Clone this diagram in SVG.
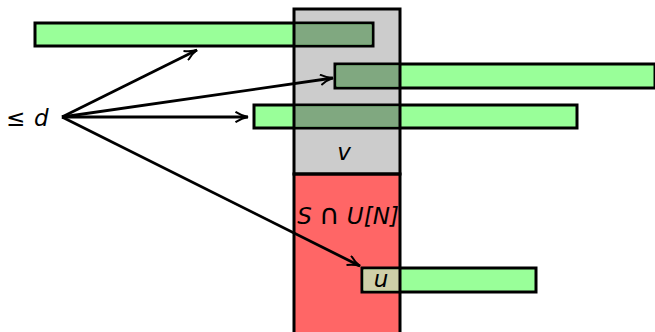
<svg xmlns="http://www.w3.org/2000/svg" width="655" height="332" viewBox="0 0 655 332">
  <style>
    .bar { fill: #99ff99; stroke: #000; stroke-width: 3; }
    .ov { fill: #80a880; stroke: none; }
    .col { fill: none; stroke: #000; stroke-width: 3; }
    .lbl { font-family: "DejaVu Sans", sans-serif; font-style: oblique; font-size: 23px; fill: #000; }
    .edge { stroke: #000; stroke-width: 2.8; fill: none; marker-end: url(#tip); }
  </style>
  <defs>
    <marker id="tip" viewBox="0 0 14 12" refX="13" refY="6" markerWidth="14" markerHeight="12" markerUnits="userSpaceOnUse" orient="auto">
      <path d="M0.5,0.8 Q7,5 13,6 Q7,7 0.5,11.2" fill="none" stroke="#000" stroke-width="2" stroke-linejoin="miter"/>
    </marker>
  </defs>

  <!-- column backgrounds -->
  <g id="column-v">
    <rect x="294" y="9" width="106" height="165" fill="#cccccc"/>
  </g>
  <g id="column-s">
    <rect x="294" y="174" width="106" height="160" fill="#ff6666"/>
  </g>

  <!-- intervals -->
  <g id="bar1">
    <rect class="bar" x="35" y="23" width="338" height="23"/>
    <rect class="ov" x="294" y="24.5" width="77.5" height="20"/>
  </g>
  <g id="bar2">
    <rect class="bar" x="335" y="64" width="320" height="24"/>
    <rect class="ov" x="336.5" y="65.5" width="63.5" height="21"/>
  </g>
  <g id="bar3">
    <rect class="bar" x="254" y="105" width="323" height="23"/>
    <rect class="ov" x="294" y="106.5" width="106" height="20"/>
  </g>
  <g id="bar-u">
    <rect class="bar" x="362" y="268" width="174" height="24"/>
    <rect x="363.5" y="269.5" width="36.5" height="21" fill="#cfcfa8"/>
    <text class="lbl" x="381" y="287" text-anchor="middle" font-size="22">u</text>
  </g>

  <!-- column outlines -->
  <g id="column-outline">
    <rect class="col" x="294" y="9" width="106" height="165"/>
    <rect class="col" x="294" y="174" width="106" height="160"/>
    <text class="lbl" x="344" y="160" text-anchor="middle" font-size="22">v</text>
    <text class="lbl" x="348" y="224" text-anchor="middle">S <tspan font-size="28" font-style="normal">∩</tspan> U[N]</text>
  </g>

  <g id="label-d">
    <text class="lbl" x="6" y="126" style="font-style:normal">≤</text>
    <text class="lbl" x="34" y="126">d</text>
  </g>

  <g id="connectors">
    <line class="edge" x1="62" y1="117" x2="197" y2="50"/>
    <line class="edge" x1="62" y1="117" x2="333" y2="78"/>
    <line class="edge" x1="62" y1="117" x2="248" y2="117"/>
    <line class="edge" x1="62" y1="117" x2="360" y2="266"/>
  </g>
</svg>
